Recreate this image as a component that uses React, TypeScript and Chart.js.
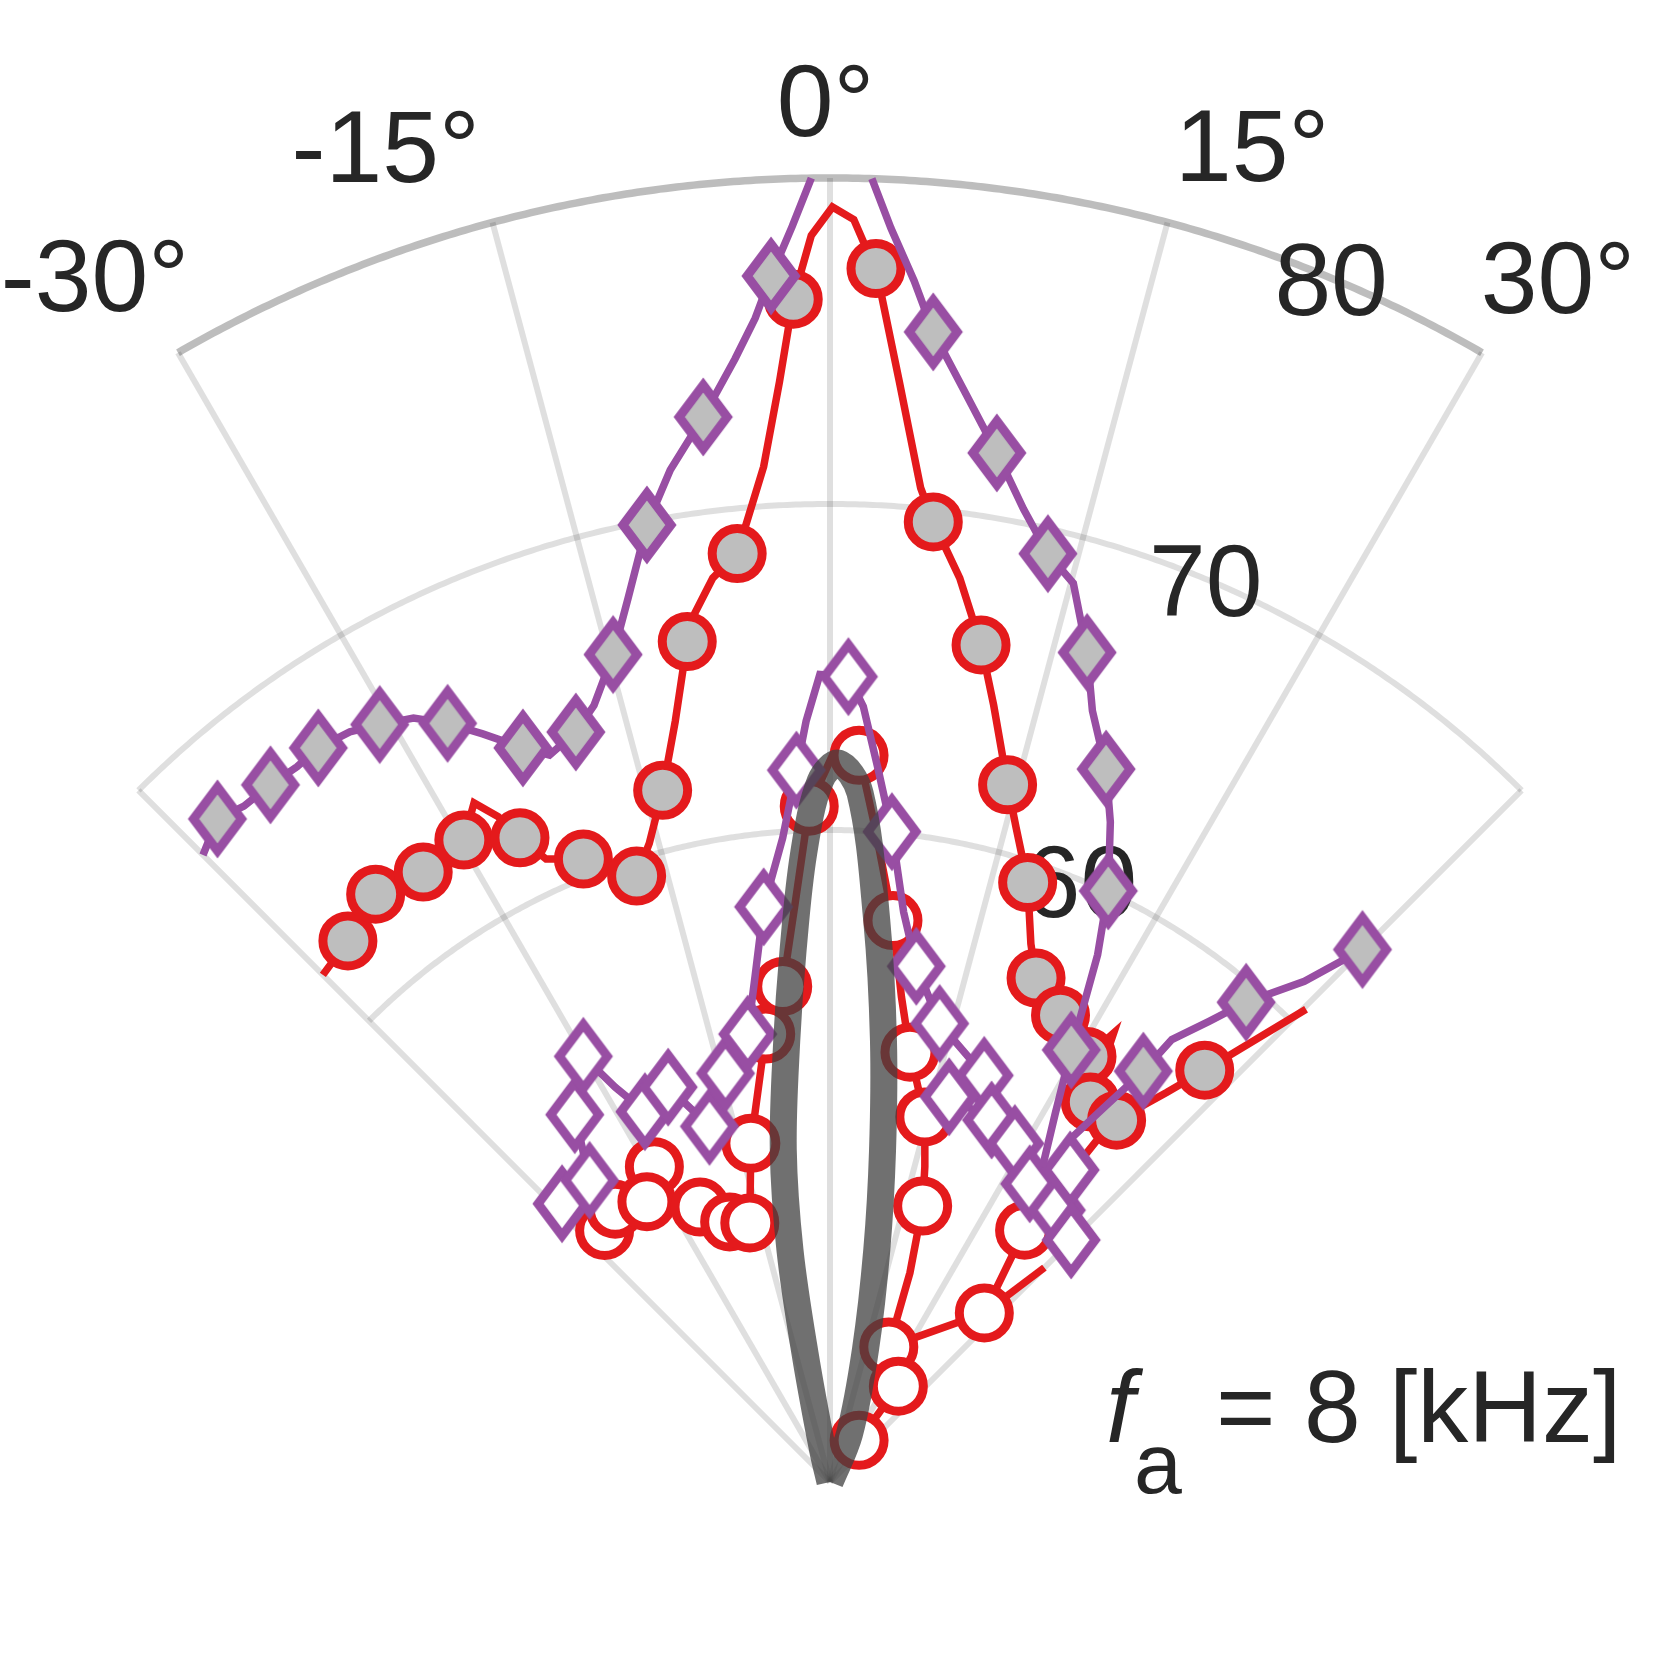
import React, { useEffect, useRef } from "react";
import { Chart, registerables } from "chart.js";

Chart.register(...registerables);

// ---------- axes ----------
const R_MIN = 40;
const R_MAX = 80;
const thetaTicks = [-30, -15, 0, 15, 30];
const spokeAngles = [-45, -30, -15, 0, 15, 30, 45];
const rTicks = [60, 70, 80];
const annotationParts = ["f", "a", "= 8 [kHz]"];

// ---------- red line, filled circles (angle deg, level dB) ----------
const redFilledTheta = [-45, -41.7, -37.7, -33.7, -29.7, -27.66, -26.5, -25.7, -24.5, -21.6, -17.7, -15.8, -13.6, -11.5, -9.64, -8.85, -7.39, -5.71, -3.74, -2.63, -1.78, -0.86, 0.11, 1.08, 1.59, 2.17, 3.61, 5.21, 6.14, 8.17, 10.23, 11.9, 14.29, 15.86, 18.25, 20.47, 22.24, 26.28, 31.13, 32.28, 34.41, 38.38, 40.83, 42.3, 45.2];
const redFilledLevel = [62.0, 62.23, 62.79, 62.49, 62.67, 63.52, 62.8, 61.93, 61.0, 60.55, 59.51, 60.36, 61.83, 63.81, 66.15, 66.97, 67.96, 68.62, 71.21, 73.78, 76.3, 78.24, 79.11, 78.73, 77.99, 77.25, 73.81, 70.62, 69.62, 68.01, 66.09, 64.35, 62.07, 60.88, 59.36, 57.62, 56.7, 55.97, 55.25, 56.29, 54.13, 54.16, 55.79, 57.08, 60.58];
const redFilledMarker = [0, 1, 1, 1, 1, 0, 0, 1, 0, 1, 1, 0, 1, 0, 1, 0, 0, 1, 0, 0, 1, 0, 0, 0, 0, 1, 0, 0, 1, 0, 1, 0, 1, 0, 1, 0, 1, 1, 1, 0, 1, 1, 0, 1, 0];

// ---------- purple line, filled diamonds ----------
const purpleFilledTheta = [-45, -42.73, -40.93, -38.75, -36.7, -34.88, -32.62, -30.73, -28.6, -26.75, -24.9, -22.7, -21.1, -18.72, -16.9, -14.69, -12.9, -10.83, -8.97, -6.79, -4.83, -3.68, -2.8, -1.72, -0.82, null, 1.84, 2.78, 4.01, 5.13, 7.07, 9.21, 11.25, 13.21, 15.15, 17.22, 18.79, 21.17, 23.02, 25.21, 26.91, 29.18, 31.45, 34.0];
const purpleFilledLevel = [67.2, 67.69, 67.44, 67.42, 67.36, 67.45, 67.32, 67.03, 66.69, 66.06, 65.3, 64.41, 63.9, 64.29, 64.9, 66.24, 67.78, 69.89, 71.43, 72.9, 74.58, 75.77, 77.04, 78.54, 80, null, 80, 78.51, 76.93, 75.42, 73.68, 71.98, 70.43, 69.25, 68.56, 66.64, 64.99, 63.45, 61.99, 60.04, 58.14, 55.18, 53.24, 51.66];
const purpleFilledMarker = [0, 1, 0, 1, 0, 1, 0, 1, 0, 1, 0, 1, 0, 1, 0, 1, 0, 1, 0, 1, 0, 0, 1, 0, 0, 0, 0, 0, 0, 1, 0, 1, 0, 1, 0, 1, 0, 1, 0, 1, 0, 1, 0, 0];

const purpleTailTheta = [45, 43.45, 40.94, 39.45, 37.69, 37.33, 36.16, 34.86];
const purpleTailLevel = [63.1, 61.16, 59.48, 58.3, 57.15, 55.85, 54.19, 52.66];
const purpleTailMarker = [1, 0, 1, 0, 0, 1, 0, 0];

// ---------- red line, open circles ----------
const redOpenTheta = [-41.86, -38.22, -29.12, -33.15, -25.3, -21.1, -17.2, -13.15, -8.17, -5.45, -3.41, -1.76, 0.2, 2.29, 3.93, 6.4, 8.38, 10.54, 14.56, 16.74, 18.56, 20.91, 23.52, 35.5, 34.9];
const redOpenLevel = [50.36, 50.65, 51.07, 50.27, 49.33, 48.55, 48.32, 50.67, 53.88, 55.27, 57.84, 60.74, 62.29, 62.31, 60.13, 57.33, 55.04, 53.41, 51.57, 50.1, 48.93, 46.87, 44.52, 43.61, 41.56];
const redOpenMarker = [1, 1, 1, 1, 1, 1, 1, 1, 1, 1, 0, 1, 0, 1, 0, 1, 0, 1, 1, 0, 1, 0, 1, 1, 1];

const redOpenBranchTheta = [23.52, 42.4, 37.7, 37.9, 38.0];
const redOpenBranchLevel = [44.52, 47.02, 49.76, 51.51, 53.6];
const redOpenBranchMarker = [0, 1, 1, 0, 0];

const redOpenStubTheta = [42.4, 45];
const redOpenStubLevel = [47.02, 49.3];
const redOpenStubMarker = [0, 0];

// ---------- purple line, open diamonds ----------
const purpleOpenTheta = [-43.92, -38.56, -34.79, -30.09, -28.55, -26.56, -22.29, -18.72, -14.35, -10.41, -8.41, -6.58, -4.2, -2.7, -1.8, -0.72, 1.31, 2.46, 3.86, 5.44, 7.36, 9.5, 13.45, 20.77, 17.19, 24.06, 28.64, 33.81, 39.78, 37.58, 44.9];
const purpleOpenLevel = [51.85, 51.83, 53.72, 55.09, 53.79, 52.7, 53.09, 51.52, 52.94, 53.97, 55.7, 57.76, 59.81, 61.86, 63.35, 64.77, 64.71, 63.81, 61.92, 60.04, 57.63, 56.04, 54.46, 53.34, 52.37, 52.16, 51.83, 51.01, 50.85, 52.08, 50.48];
const purpleOpenMarker = [1, 1, 1, 1, 0, 1, 1, 1, 1, 1, 0, 1, 0, 1, 0, 0, 1, 0, 0, 1, 0, 1, 1, 1, 1, 1, 1, 1, 1, 1, 1];

// ---------- gray beam lobe ----------
const lobeTheta = [-16, -13, -11, -9.8, -8, -5.6, -4, -2.4, -0.8, 0.7, 2.5, 4.75, 6.9, 9, 11.4, 15, 22, 30];
const lobeLevel = [40, 41, 44, 47.2, 50.3, 53.6, 56.3, 59.3, 61.5, 62.05, 61.15, 57.3, 53.65, 50.3, 47.26, 44.2, 41.6, 40];

// ---------- styles ----------
const RED = "#e41a1c";
const PURPLE = "#984ea3";
const FILL = "#bebebe";
const TEXT = "#262626";
const FONT = '"Liberation Sans", Arial, Helvetica, sans-serif';
const PX_PER_DB = 32.6;
const ORIGIN_X = 830;
const ORIGIN_Y = 1482;
const SIZE = 1663;

function toXY(t: number, r: number) {
  const a = (t * Math.PI) / 180;
  const rr = r - R_MIN;
  return { x: rr * Math.sin(a), y: rr * Math.cos(a) };
}

function buildData(theta: (number | null)[], level: (number | null)[]) {
  return theta.map((t, i) => {
    const l = level[i];
    if (t === null || l === null) return { x: null as any, y: null as any };
    return toXY(t, l);
  });
}

function makeDiamond(fill: string) {
  const c = document.createElement("canvas");
  c.width = 72;
  c.height = 90;
  const g = c.getContext("2d")!;
  g.lineWidth = 9;
  g.strokeStyle = PURPLE;
  g.fillStyle = fill;
  g.lineJoin = "miter";
  g.miterLimit = 10;
  g.beginPath();
  g.moveTo(36, 45 - 32);
  g.lineTo(36 + 24, 45);
  g.lineTo(36, 45 + 32);
  g.lineTo(36 - 24, 45);
  g.closePath();
  g.fill();
  g.stroke();
  return c;
}

function series(
  label: string,
  theta: (number | null)[],
  level: (number | null)[],
  marker: number[],
  color: string,
  style: any,
  fill: string,
  order: number
) {
  const isCircle = style === "circle";
  const rad = (ctx: any) => (marker[ctx.dataIndex] ? (isCircle ? 25 : 30) : 0);
  return {
    label,
    data: buildData(theta, level),
    showLine: true,
    borderColor: color,
    borderWidth: 7.5,
    tension: 0,
    spanGaps: false,
    pointStyle: style,
    pointRadius: rad,
    pointHoverRadius: rad,
    pointBackgroundColor: fill,
    pointBorderColor: color,
    pointBorderWidth: 9,
    pointHoverBorderWidth: 9,
    order,
  };
}

const polarPlugin = {
  id: "polarFrame",
  beforeDatasetsDraw(chart: any) {
    const { ctx } = chart;
    const xs = chart.scales.x;
    const ys = chart.scales.y;
    const px = (t: number, r: number) => {
      const p = toXY(t, r);
      return [xs.getPixelForValue(p.x), ys.getPixelForValue(p.y)];
    };
    ctx.save();
    ctx.lineCap = "butt";
    rTicks.forEach((r) => {
      const span = r === R_MAX ? 30 : 45;
      ctx.beginPath();
      for (let t = -span; t <= span + 1e-9; t += 0.25) {
        const [x, y] = px(t, r);
        if (t === -span) ctx.moveTo(x, y);
        else ctx.lineTo(x, y);
      }
      ctx.strokeStyle = r === R_MAX ? "rgba(38,38,38,0.3)" : "rgba(38,38,38,0.15)";
      ctx.lineWidth = r === R_MAX ? 7.5 : 6;
      ctx.stroke();
    });
    spokeAngles.forEach((t) => {
      const end = Math.abs(t) > 30 ? 70 : R_MAX;
      const [x0, y0] = px(t, R_MIN);
      const [x1, y1] = px(t, end);
      ctx.beginPath();
      ctx.moveTo(x0, y0);
      ctx.lineTo(x1, y1);
      ctx.strokeStyle = "rgba(38,38,38,0.15)";
      ctx.lineWidth = 6;
      ctx.stroke();
    });
    const anchor: Record<string, [number, number]> = {
      "-30": [-28.7, 80.95],
      "-15": [-15.08, 81.3],
      "0": [-0.19, 81.3],
      "15": [14.85, 81.3],
      "30": [29.1, 81.05],
    };
    ctx.fillStyle = TEXT;
    ctx.font = `102px ${FONT}`;
    ctx.textBaseline = "alphabetic";
    thetaTicks.forEach((t) => {
      const [at, ar] = anchor[String(t)];
      const [x, y] = px(at, ar);
      ctx.textAlign = t < 0 ? "right" : t > 0 ? "left" : "center";
      ctx.fillText(`${t}\u00B0`, x, y);
    });
    ctx.textAlign = "center";
    rTicks.forEach((r) => {
      const [x, y] = px(22.6, r);
      ctx.fillText(String(r), x, y + 36.5);
    });
    ctx.restore();
  },
  afterDatasetsDraw(chart: any) {
    const { ctx } = chart;
    ctx.save();
    ctx.fillStyle = TEXT;
    ctx.textBaseline = "alphabetic";
    ctx.textAlign = "left";
    ctx.font = `italic 102px ${FONT}`;
    ctx.fillText(annotationParts[0], 1106, 1442);
    ctx.font = `86px ${FONT}`;
    ctx.fillText(annotationParts[1], 1134, 1493);
    ctx.font = `102px ${FONT}`;
    ctx.fillText(annotationParts[2], 1216, 1442);
    ctx.restore();
  },
};

export default function App() {
  const ref = useRef<HTMLCanvasElement>(null);
  useEffect(() => {
    document.body.style.margin = "0";
    document.body.style.overflow = "hidden";
    const canvas = ref.current!;
    const diamondFilled = makeDiamond(FILL);
    const diamondOpen = makeDiamond("#ffffff");

    const datasets: any[] = [
      {
        label: "lobe",
        data: buildData(lobeTheta, lobeLevel),
        showLine: true,
        borderColor: "rgba(64,64,64,0.75)",
        borderWidth: 27,
        borderCapStyle: "butt",
        pointRadius: 0,
        pointHoverRadius: 0,
        tension: 0.35,
        order: 0,
      },
      series("purpleFilled", purpleFilledTheta, purpleFilledLevel, purpleFilledMarker, PURPLE, diamondFilled, FILL, 1),
      series("purpleTail", purpleTailTheta, purpleTailLevel, purpleTailMarker, PURPLE, diamondFilled, FILL, 1),
      series("purpleOpen", purpleOpenTheta, purpleOpenLevel, purpleOpenMarker, PURPLE, diamondOpen, "#ffffff", 2),
      series("redFilled", redFilledTheta, redFilledLevel, redFilledMarker, RED, "circle", FILL, 3),
      series("redOpen", redOpenTheta, redOpenLevel, redOpenMarker, RED, "circle", "#ffffff", 4),
      series("redOpenBranch", redOpenBranchTheta, redOpenBranchLevel, redOpenBranchMarker, RED, "circle", "#ffffff", 4),
      series("redOpenStub", redOpenStubTheta, redOpenStubLevel, redOpenStubMarker, RED, "circle", "#ffffff", 4),
    ];

    const chart = new Chart(canvas, {
      type: "scatter",
      data: { datasets },
      options: {
        responsive: false,
        maintainAspectRatio: false,
        devicePixelRatio: 1,
        animation: false,
        events: [],
        layout: { padding: 0, autoPadding: false },
        plugins: { legend: { display: false }, tooltip: { enabled: false } },
        scales: {
          x: {
            type: "linear",
            display: false,
            min: -ORIGIN_X / PX_PER_DB,
            max: (SIZE - ORIGIN_X) / PX_PER_DB,
          },
          y: {
            type: "linear",
            display: false,
            min: -(SIZE - ORIGIN_Y) / PX_PER_DB,
            max: ORIGIN_Y / PX_PER_DB,
          },
        },
      },
      plugins: [polarPlugin],
    } as any);
    return () => chart.destroy();
  }, []);

  return (
    <div style={{ width: SIZE, height: SIZE, background: "#ffffff" }}>
      <canvas ref={ref} width={SIZE} height={SIZE} style={{ display: "block", width: SIZE, height: SIZE }} />
    </div>
  );
}
